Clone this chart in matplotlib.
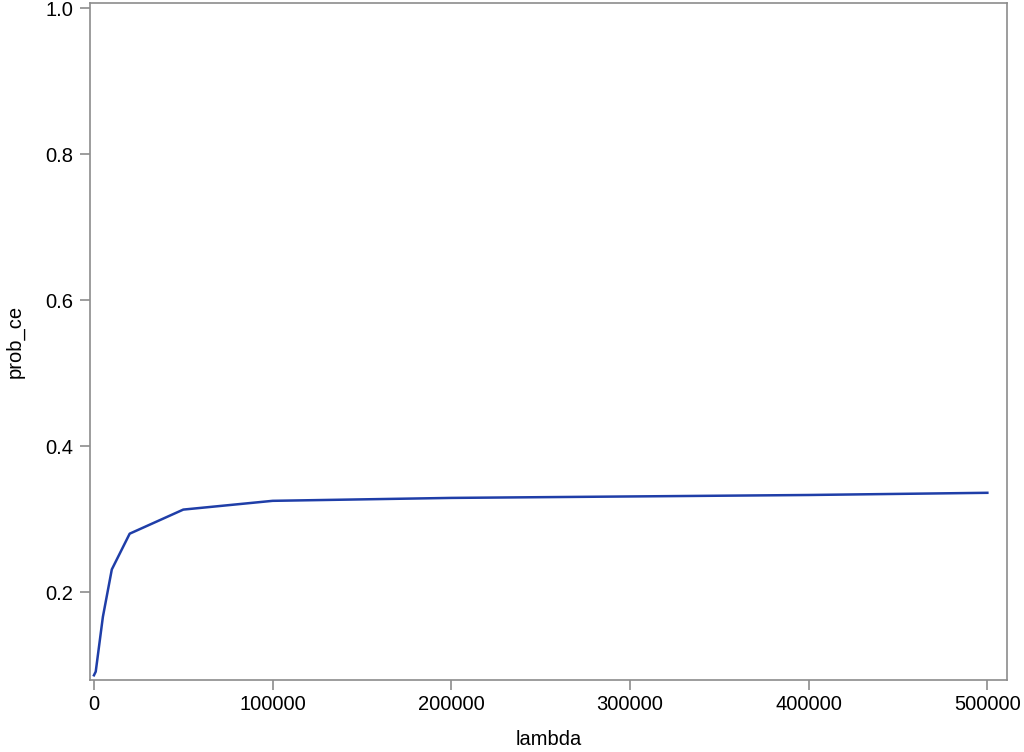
import matplotlib
matplotlib.use("Agg")
import matplotlib.pyplot as plt

# values
lam = [0, 1000, 5000, 10000, 20000, 50000, 100000, 200000, 300000, 400000, 500000]
prob_ce = [0.086, 0.091, 0.166, 0.231, 0.280, 0.313, 0.325, 0.329, 0.331, 0.333, 0.336]

xticks = [0, 100000, 200000, 300000, 400000, 500000]
yticks = [0.2, 0.4, 0.6, 0.8, 1.0]

plt.rcParams['font.family'] = ['Liberation Sans', 'DejaVu Sans']

fig = plt.figure(figsize=(10.24, 7.52), dpi=100)
ax = fig.add_axes([0.0879, 0.0957, 0.8955, 0.9003])

ax.plot(lam, prob_ce, color='#1f3ea8', linewidth=1.8)

ax.set_xlim(-2200, 511000)
ax.set_ylim(0.0795, 1.007)
ax.set_xticks(xticks)
ax.set_xticklabels([str(t) for t in xticks])
ax.set_yticks(yticks)
ax.set_yticklabels(["%.1f" % t for t in yticks])

for s in ax.spines.values():
    s.set_color('#8c8c8c')
    s.set_linewidth(1.2)
ax.tick_params(axis='both', colors='#8c8c8c', labelcolor='black',
               length=7, width=1.2, labelsize=14.5)
ax.tick_params(axis='x', pad=4)
ax.tick_params(axis='y', pad=5)

ax.set_xlabel('lambda', fontsize=14.5, labelpad=11)
ax.set_ylabel('prob_ce', fontsize=14.5, labelpad=15)

fig.savefig('out.png', dpi=100)
